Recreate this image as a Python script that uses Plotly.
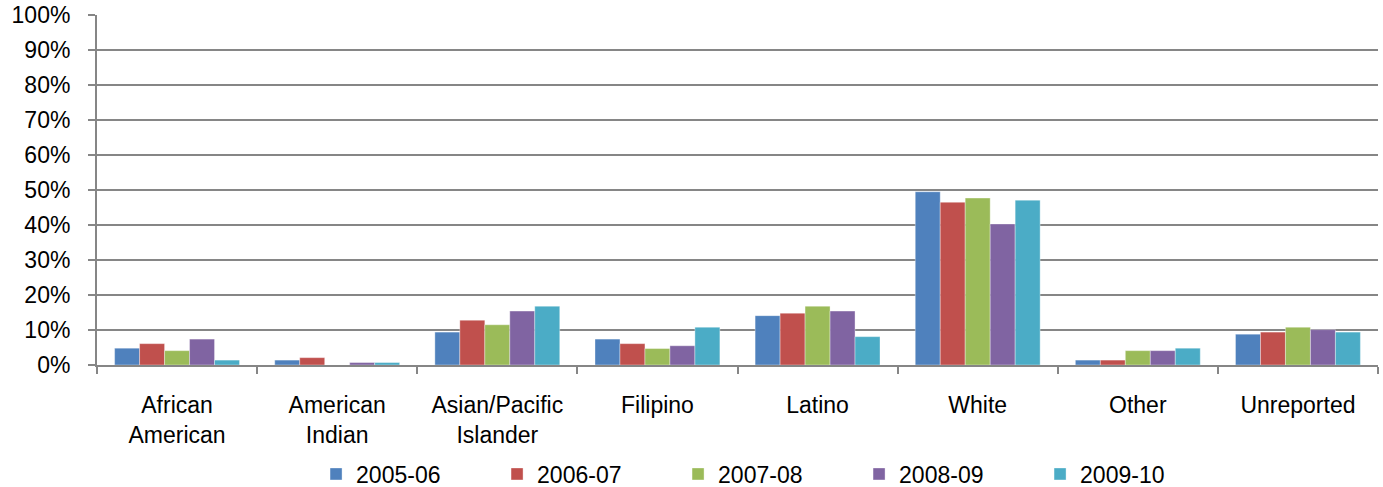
import plotly.graph_objects as go

# Share of students by ethnicity, per academic year
categories = ["African<br>American", "American<br>Indian", "Asian/Pacific<br>Islander",
              "Filipino", "Latino", "White", "Other", "Unreported"]
years = ["2005-06", "2006-07", "2007-08", "2008-09", "2009-10"]

share_2005_06 = [4.8, 1.4, 9.4, 7.4, 14.1, 49.5, 1.4, 8.8]
share_2006_07 = [6.1, 2.1, 12.8, 6.1, 14.8, 46.5, 1.4, 9.4]
share_2007_08 = [4.1, 0.0, 11.5, 4.7, 16.8, 47.7, 4.1, 10.8]
share_2008_09 = [7.4, 0.7, 15.4, 5.5, 15.4, 40.3, 4.1, 10.1]
share_2009_10 = [1.4, 0.7, 16.8, 10.8, 8.1, 47.1, 4.8, 9.4]

series = [share_2005_06, share_2006_07, share_2007_08, share_2008_09, share_2009_10]
colors = ["#4F81BD", "#C0504D", "#9BBB59", "#8064A2", "#4BACC6"]

fig = go.Figure()
for name, vals, col in zip(years, series, colors):
    fig.add_trace(go.Bar(
        x=categories, y=[v / 100 for v in vals], name=name,
        marker=dict(color=col, line=dict(color="rgba(255,255,255,0.6)", width=0.6)),
    ))

font = dict(family="Liberation Sans, Arial, sans-serif", size=23, color="#000000")

fig.update_layout(
    width=1383, height=487,
    margin=dict(l=97, r=5, t=15, b=122, autoexpand=False),
    plot_bgcolor="white", paper_bgcolor="white",
    barmode="group", bargap=0.22, bargroupgap=0,
    font=font,
    showlegend=True,
    legend=dict(orientation="h", x=0.171, xanchor="left", y=-0.25, yanchor="top",
                font=font, entrywidth=136, entrywidthmode="pixels",
                itemwidth=30, traceorder="normal"),
    xaxis=dict(
        type="category", tickson="boundaries", ticks="outside", ticklen=7,
        tickcolor="#868686", tickwidth=2, showline=True, linecolor="#868686",
        linewidth=2, showgrid=False, ticklabelstandoff=18, tickfont=font,
        automargin=False,
    ),
    yaxis=dict(
        range=[0, 1], dtick=0.1, tickformat=".0%", ticks="outside", ticklen=7,
        tickcolor="#868686", tickwidth=2, showline=True, linecolor="#868686",
        linewidth=2, showgrid=True, gridcolor="#868686", gridwidth=2,
        zeroline=False, tickfont=font, ticklabelstandoff=13, automargin=False,
    ),
)

fig.write_html("out.html")
